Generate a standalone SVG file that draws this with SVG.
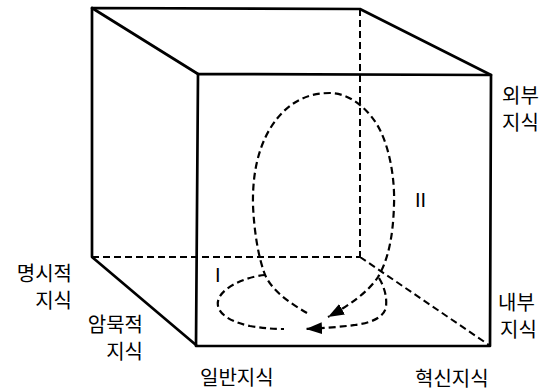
<svg xmlns="http://www.w3.org/2000/svg" width="545" height="392" viewBox="0 0 545 392">
<style>
.edge{fill:none;stroke:#000;stroke-width:2.7;stroke-linecap:round;stroke-linejoin:round}
.hidden{fill:none;stroke:#000;stroke-width:2;stroke-dasharray:7 4}
.flow{fill:none;stroke:#000;stroke-width:2.2;stroke-dasharray:7 4}
.ko{font-family:"Noto Sans CJK KR","Noto Sans",sans-serif;font-size:20px;fill:#000}
.num{font-family:"Liberation Sans",Arial,sans-serif;font-size:20px;fill:#000}
</style>
<defs>
<marker id="ah" markerUnits="userSpaceOnUse" markerWidth="18" markerHeight="12" refX="16" refY="6" orient="auto">
<path d="M0,0 L16,6 L0,12 z" fill="#000"/>
</marker>
</defs>
<rect width="545" height="392" fill="#fff"/>
<g id="cube">
<path class="hidden" d="M92,257 L360,257 M360,9 L360,257 M360,257 L489,345"/>
<path class="edge" d="M92,8 L360,9 L491,75 M92,8 L92,257 L196,345"/>
<path class="edge" stroke-width="3.5" d="M92,8 L198,74"/>
<path class="edge" d="M198,74 L491,75 L490,346 L196,346 Z"/>
</g>
<g id="connectors">
<path id="loop-II" class="flow" marker-end="url(#ah)" d="M307,313 C290,303 270,290 264,272 C258,255 254,230 253,205 C252,160 265,130 283,112 C295,100 310,93 330,93 C350,93 370,110 380,130 C390,150 395,180 394,205 C393,240 387,262 378,277 C368,292 350,305 328,317"/>
<path id="loop-I-left" class="flow" d="M265,275 C250,276 225,285 219,298 C213,312 230,322 250,326 C262,328 272,329 284,329"/>
<path id="loop-I-right" class="flow" marker-end="url(#ah)" d="M379,278 C385,288 387,298 386,307 C384,318 370,323 355,325 C340,327 325,328 306,329"/>
</g>
<g id="label-I"><text class="num" x="215" y="282">I</text></g>
<g id="label-II"><text class="num" x="415" y="207">II</text></g>
<g id="label-external"><text class="ko" x="502" y="103">외부<tspan x="502" dy="27">지식</tspan></text></g>
<g id="label-internal"><text class="ko" x="498" y="310">내부<tspan x="500" dy="27">지식</tspan></text></g>
<g id="label-innovative"><text class="ko" x="415" y="386">혁신지식</text></g>
<g id="label-general"><text class="ko" x="200" y="385">일반지식</text></g>
<g id="label-explicit"><text class="ko" x="72" y="281" text-anchor="end">명시적<tspan x="72" dy="27">지식</tspan></text></g>
<g id="label-tacit"><text class="ko" x="143" y="332" text-anchor="end">암묵적<tspan x="143" dy="27">지식</tspan></text></g>
</svg>
